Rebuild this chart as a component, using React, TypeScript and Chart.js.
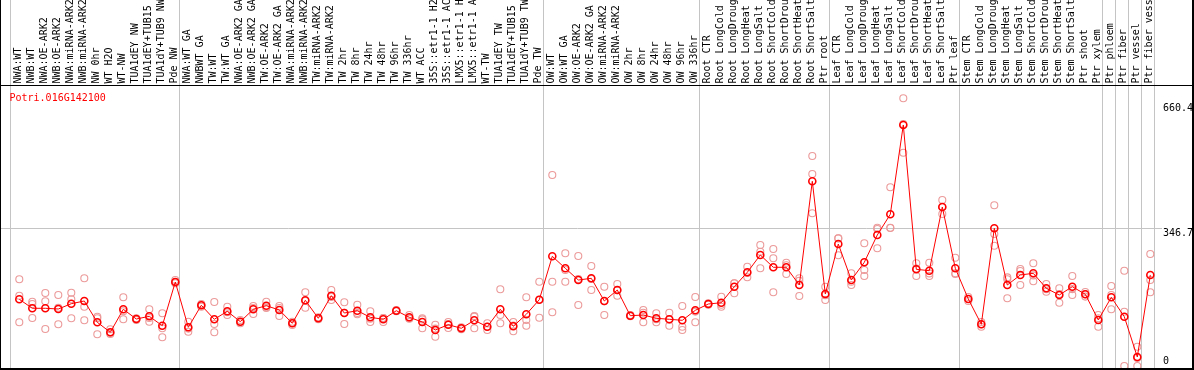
import React, { useEffect, useRef } from 'react';
import { Chart, registerables } from 'chart.js';

Chart.register(...registerables);

const TITLE = 'Potri.016G142100';

const CATEGORIES = [
  'NWA:WT', 'NWB:WT', 'NWA:OE-ARK2', 'NWB:OE-ARK2', 'NWA:miRNA-ARK2', 'NWB:miRNA-ARK2',
  'NW 0hr', 'WT H2O', 'WT-NW', 'TUA1dEY NW', 'TUA1dEY+TUB15 NW', 'TUA1dY+TUB9 NW', 'Pde NW',
  'NWA:WT GA', 'NWBWT GA', 'TW:WT', 'TW:WT GA', 'NWA:OE-ARK2 GA', 'NWB:OE-ARK2 GA',
  'TW:OE-ARK2', 'TW:OE-ARK2 GA', 'NWA:miRNA-ARK2 GA', 'NWB:miRNA-ARK2 GA', 'TW:miRNA-ARK2',
  'TW:miRNA-ARK2 GA', 'TW 2hr', 'TW 8hr', 'TW 24hr', 'TW 48hr', 'TW 96hr', 'TW 336hr',
  'WT ACC', '35S::etr1-1 H2O', '35S::etr1-1 ACC', 'LMX5::etr1-1 H2O', 'LMX5::etr1-1 ACC',
  'WT-TW', 'TUA1dEY TW', 'TUA1dEY+TUB15 TW', 'TUA1dY+TUB9 TW', 'Pde TW',
  'OW:WT', 'OW:WT GA', 'OW:OE-ARK2', 'OW:OE-ARK2 GA', 'OW:miRNA-ARK2', 'OW:miRNA-ARK2 GA',
  'OW 2hr', 'OW 8hr', 'OW 24hr', 'OW 48hr', 'OW 96hr', 'OW 336hr',
  'Root CTR', 'Root LongCold', 'Root LongDrought', 'Root LongHeat', 'Root LongSalt',
  'Root ShortCold', 'Root ShortDrought', 'Root ShortHeat', 'Root ShortSalt', 'Ptr root',
  'Leaf CTR', 'Leaf LongCold', 'Leaf LongDrought', 'Leaf LongHeat', 'Leaf LongSalt',
  'Leaf ShortCold', 'Leaf ShortDrought', 'Leaf ShortHeat', 'Leaf ShortSalt', 'Ptr leaf',
  'Stem CTR', 'Stem LongCold', 'Stem LongDrought', 'Stem LongHeat', 'Stem LongSalt',
  'Stem ShortCold', 'Stem ShortDrought', 'Stem ShortHeat', 'Stem ShortSalt', 'Ptr shoot',
  'Ptr xylem', 'Ptr phloem', 'Ptr fiber', 'Ptr vessel', 'Ptr fiber vessel',
];

const MEAN = [
  168.2, 145.5, 145.5, 143.7, 157.1, 163.9, 110.2, 85.0, 143.0, 118.5, 125.3, 101.6, 211.8,
  97.6, 153.1, 117.8, 137.9, 111.7, 143.0, 152.0, 141.2, 107.7, 165.7, 120.3, 177.3, 133.6,
  139.4, 122.8, 117.8, 139.4, 122.8, 110.9, 90.8, 104.1, 95.1, 115.2, 99.1, 143.0, 100.1,
  130.4, 167.2,
  276.6, 246.4, 216.8, 221.1, 163.9, 191.6, 126.8, 128.6, 120.3, 117.8, 115.2, 140.4,
  156.3, 159.6, 200.0, 236.3, 279.9, 248.9, 248.9, 204.2, 465.7, 181.5,
  307.6, 216.8, 261.5, 330.3, 382.5, 607.7, 243.8, 240.3, 400.9, 246.4,
  168.9, 105.1, 347.2, 204.2, 229.5, 233.7, 195.9, 179.0, 200.0, 180.8, 116.0, 173.2,
  124.3, 22.7, 229.5,
];

const REP_A = [
  218.6, 162.1, 184.1, 179.0, 184.8, 221.1, 124.3, 92.5, 173.2, 120.3, 143.0, 132.9, 216.8,
  111.7, 156.3, 161.4, 149.5, 116.0, 151.3, 162.1, 151.3, 111.7, 185.8, 122.8, 191.6, 160.6,
  154.6, 137.9, 110.9, 141.2, 128.6, 120.3, 104.1, 110.9, 97.6, 126.1, 107.7, 193.4, 110.9,
  173.2, 212.6,
  481.6, 284.2, 277.4, 252.2, 200.0, 206.8, 128.6, 141.2, 132.9, 134.4, 151.3, 174.0,
  158.1, 174.7, 208.5, 250.4, 305.1, 295.0, 260.5, 221.1, 529.5, 200.0,
  322.0, 233.7, 309.4, 348.7, 450.6, 675.0, 259.0, 260.5, 418.6, 273.1,
  174.0, 110.9, 405.2, 218.6, 239.5, 259.0, 206.8, 195.9, 226.9, 186.6, 128.6, 201.7,
  240.3, 48.7, 282.4,
];

const REP_B = [
  177.3, 156.3, 163.1, 105.1, 168.2, 149.5, 120.3, 84.0, 117.8, 118.5, 111.7, 95.1, 211.8,
  86.5, 153.1, 105.9, 128.6, 111.7, 131.1, 148.0, 126.1, 103.4, 147.0, 120.3, 166.4, 105.9,
  130.4, 110.9, 121.0, 139.4, 120.3, 95.1, 73.9, 95.8, 95.1, 95.1, 90.8, 128.6, 87.5,
  116.0, 121.8,
  212.6, 212.6, 153.8, 191.6, 128.6, 177.3, 126.8, 110.2, 110.2, 101.6, 99.1, 110.2,
  156.3, 149.5, 183.3, 223.7, 246.4, 271.6, 232.0, 176.5, 484.1, 166.4,
  279.1, 204.2, 242.1, 296.8, 348.7, 537.8, 226.9, 226.9, 383.3, 232.0,
  168.9, 105.1, 303.3, 170.7, 204.2, 213.6, 187.3, 159.6, 179.0, 180.8, 99.1, 179.0,
  136.9, 20.2, 216.8,
];

const REP_C = [
  110.2, 121.0, 93.3, 147.0, 120.3, 115.2, 79.9, 80.7, 137.9, 115.9, 121.0, 72.4, 208.5,
  94.3, 149.5, 85.0, 135.4, 107.7, 146.2, 146.2, 146.2, 107.7, 163.9, 117.8, 174.0, 134.4,
  133.6, 119.3, 121.0, 137.9, 119.3, 117.5, 94.3, 105.9, 92.5, 124.6, 98.8, 107.7, 101.9,
  101.6, 167.2,
  135.4, 242.1, 219.4, 219.4, 163.1, 190.9, 125.3, 134.4, 117.8, 117.0, 90.8, 137.2,
  154.6, 154.6, 208.5, 234.5, 288.2, 185.8, 254.2, 215.1, 385.0, 178.3,
  321.7, 212.6, 226.9, 345.4, 348.0, 610.2, 245.6, 233.5, 400.9, 233.7,
  163.9, 99.1, 332.8, 223.4, 244.6, 228.5, 193.6, 181.5, 193.9, 175.0, 120.3, 143.0,
  0, 0, 185.8,
];

// category indices where a new group starts (vertical separators)
const GROUP_BOUNDARIES = [0, 13, 41, 53, 63, 73, 84, 85, 86, 87, 88];
const Y_TICKS = [0, 346.7, 660.4];
const Y_MIN = -7.56;
const Y_MAX = 706.0;

const W = 1194;
const H = 370;
const FONT = 'DejaVu Sans Mono';
const GRID_COLOR = '#c4c4c4';
const REP_COLOR = '#ec9a9a';

export default function App() {
  const ref = useRef<HTMLCanvasElement>(null);

  useEffect(() => {
    const canvas = ref.current;
    if (!canvas) return;
    const xMin = -19.3 / 13;
    const xMax = xMin + 1155 / 13;

    const framePlugin = {
      id: 'frame',
      beforeDatasetsDraw(chart: any) {
        const ctx = chart.ctx;
        const xs = chart.scales.x;
        ctx.save();
        ctx.strokeStyle = GRID_COLOR;
        ctx.lineWidth = 1;
        ctx.beginPath();
        for (const b of GROUP_BOUNDARIES) {
          const px = Math.floor(xs.getPixelForValue(b - 0.66)) + 0.5;
          ctx.moveTo(px, 0);
          ctx.lineTo(px, chart.chartArea.bottom);
        }
        ctx.stroke();
        ctx.restore();
      },
      afterDraw(chart: any) {
        const ctx = chart.ctx;
        const xs = chart.scales.x;
        ctx.save();
        // category labels, rotated, reading bottom to top
        ctx.fillStyle = '#000';
        ctx.font = `10px "${FONT}"`;
        ctx.textAlign = 'left';
        ctx.textBaseline = 'alphabetic';
        CATEGORIES.forEach((lab, i) => {
          const px = xs.getPixelForValue(i);
          ctx.save();
          ctx.translate(px + 1.5, 83.5);
          ctx.rotate(-Math.PI / 2);
          ctx.fillText(lab, 0, 0);
          ctx.restore();
        });
        // frame
        ctx.fillStyle = '#000';
        ctx.fillRect(0, 85, W, 1);
        ctx.fillRect(0, 368, W, 2);
        ctx.fillRect(0, 0, 1, H);
        ctx.fillRect(W - 2, 0, 2, H);
        // gene id
        ctx.fillStyle = '#ff0000';
        ctx.fillText(TITLE, 9.5, 100.5);
        ctx.restore();
      },
    };

    const chart = new Chart(canvas, {
      type: 'line',
      data: {
        datasets: [
          {
            label: 'mean',
            data: MEAN.map((v, i) => ({ x: i, y: v })),
            borderColor: '#ff0000',
            borderWidth: 1,
            pointRadius: 3.5,
            pointBorderWidth: 1.6,
            pointBorderColor: '#ff0000',
            pointBackgroundColor: 'rgba(0,0,0,0)',
            tension: 0,
            order: 0,
          } as any,
          {
            label: 'replicates',
            data: [REP_A, REP_B, REP_C].flatMap((arr) => arr.map((v, i) => ({ x: i, y: v }))),
            showLine: false,
            pointRadius: 3.5,
            pointBorderWidth: 1.1,
            pointBorderColor: REP_COLOR,
            pointBackgroundColor: 'rgba(0,0,0,0)',
            order: 1,
          } as any,
        ],
      },
      options: {
        responsive: false,
        animation: false,
        events: [],
        layout: { autoPadding: false, padding: { left: 0, right: 0, top: 86, bottom: 1 } },
        plugins: {
          legend: { display: false },
          tooltip: { enabled: false },
          title: { display: false },
        },
        scales: {
          x: { type: 'linear', display: false, min: xMin, max: xMax, bounds: 'data' },
          y: {
            type: 'linear',
            position: 'right',
            min: Y_MIN,
            max: Y_MAX,
            bounds: 'data',
            afterBuildTicks: (s: any) => {
              s.ticks = Y_TICKS.map((v) => ({ value: v }));
            },
            afterFit: (s: any) => {
              s.width = 39;
              s.paddingTop = 0;
              s.paddingBottom = 0;
            },
            border: { display: false },
            grid: {
              color: (c: any) => (c.tick && c.tick.value === 346.7 ? GRID_COLOR : 'rgba(0,0,0,0)'),
              tickLength: 7,
              lineWidth: 1,
            },
            ticks: {
              autoSkip: false,
              padding: 1,
              color: '#000',
              font: { family: FONT, size: 10, lineHeight: '9px' },
              callback: (v: any) => (v === 0 ? ['0', ''] : ['', String(v)]),
            },
          },
        } as any,
      },
      plugins: [framePlugin],
    });
    return () => chart.destroy();
  }, []);

  return (
    <div style={{ position: 'fixed', left: 0, top: 0, width: W, height: H, background: '#fff' }}>
      <canvas ref={ref} width={W} height={H} style={{ display: 'block' }} />
    </div>
  );
}
